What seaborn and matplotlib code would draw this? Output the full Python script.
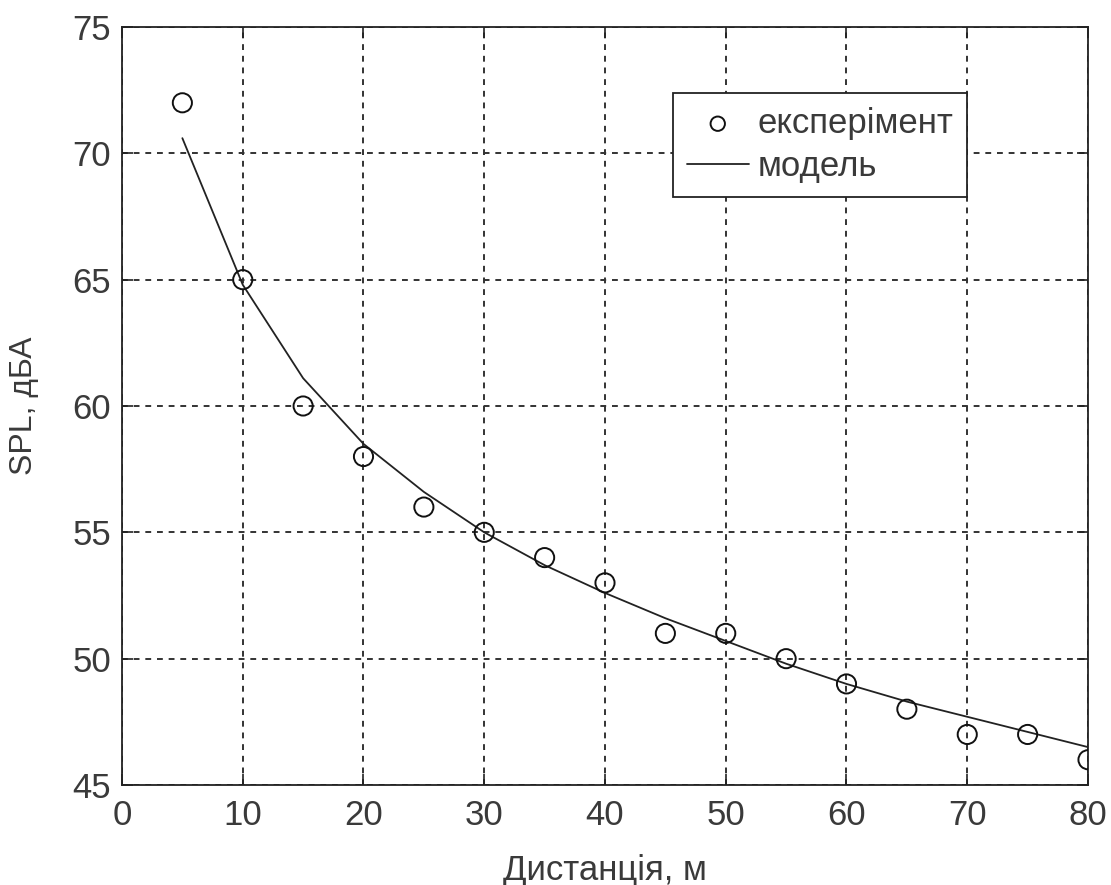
import matplotlib
matplotlib.use("Agg")
import matplotlib.pyplot as plt
import seaborn as sns
import pandas as pd

# Measured sound pressure level vs. distance
distance_exp = [5, 10, 15, 20, 25, 30, 35, 40, 45, 50, 55, 60, 65, 70, 75, 80]
spl_exp = [72, 65, 60, 58, 56, 55, 54, 53, 51, 51, 50, 49, 48, 47, 47, 46]

# Model curve
distance_model = [5, 10, 15, 20, 25, 30, 35, 40, 45, 50, 55, 60, 65, 70, 75, 80]
spl_model = [70.6, 64.8, 61.1, 58.5, 56.6, 55.0, 53.7, 52.6, 51.6, 50.7,
             49.8, 49.0, 48.3, 47.7, 47.1, 46.5]

x_ticks = [0, 10, 20, 30, 40, 50, 60, 70, 80]
y_ticks = [45, 50, 55, 60, 65, 70, 75]

sns.set_theme(style="white")
plt.rcParams["font.family"] = ["Liberation Sans", "DejaVu Sans"]

text_color = "#3a3a3a"
fs = 25

fig = plt.figure(figsize=(11.11, 8.85), dpi=100)
ax = fig.add_axes([0.1098, 0.113, 0.8695, 0.8565])

df_exp = pd.DataFrame({"x": distance_exp, "y": spl_exp})
df_model = pd.DataFrame({"x": distance_model, "y": spl_model})

sns.lineplot(data=df_model, x="x", y="y", ax=ax, color="#222222",
             linewidth=1.3, label="модель", zorder=3)
sns.scatterplot(data=df_exp, x="x", y="y", ax=ax, marker="o", s=190,
                facecolors="none", edgecolor="#111111", linewidth=1.4,
                label="експеримент", zorder=4)

ax.set_xlim(0, 80)
ax.set_ylim(45, 75)
ax.set_xticks(x_ticks)
ax.set_yticks(y_ticks)
ax.set_xticklabels([str(v) for v in x_ticks])
ax.set_yticklabels([str(v) for v in y_ticks])

ax.grid(True, color="#333333", linestyle=(0, (3, 3)), linewidth=1.4)
ax.set_axisbelow(True)

for s in ax.spines.values():
    s.set_visible(True)
    s.set_color("#222222")
    s.set_linewidth(1.3)

ax.tick_params(axis="both", direction="in", length=8, width=1.2,
               top=True, right=True, bottom=True, left=True,
               labelsize=fs, labelcolor=text_color, color="#222222")
ax.tick_params(axis="x", pad=10)
ax.tick_params(axis="y", pad=8)

ax.set_xlabel("Дистанція, м", fontsize=fs, color=text_color, labelpad=16)
ax.set_ylabel("SPL, дБА", fontsize=23, color=text_color, labelpad=24)

handles, labels = ax.get_legend_handles_labels()
order = [labels.index("експеримент"), labels.index("модель")]
leg = ax.legend([handles[i] for i in order], ["експерімент", "модель"],
                loc="upper left", bbox_to_anchor=(0.570, 0.913),
                fontsize=fs, frameon=True, fancybox=False, framealpha=1,
                edgecolor="#222222", borderpad=0.4, handlelength=1.8,
                handletextpad=0.25, labelspacing=0.3, borderaxespad=0,
                markerscale=0.75)
leg.get_frame().set_linewidth(1.3)
for t in leg.get_texts():
    t.set_color(text_color)

fig.savefig("out.png", dpi=100)
